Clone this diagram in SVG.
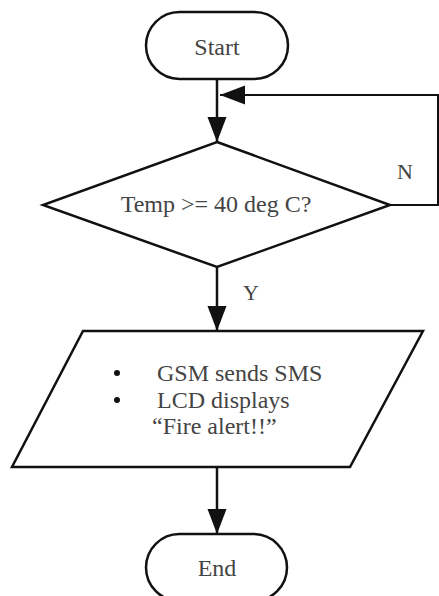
<svg xmlns="http://www.w3.org/2000/svg" width="439" height="596" viewBox="0 0 439 596">
<defs>
<style>
.shape{fill:#fff;stroke:#111;stroke-width:2.5}
.line{fill:none;stroke:#111;stroke-width:2.5}
.t{font-family:"Liberation Serif","Times New Roman",serif;font-size:24px;fill:#444}
</style>
<marker id="ah" markerUnits="userSpaceOnUse" markerWidth="26" markerHeight="20" refX="25" refY="9.5" orient="auto">
<path d="M0,0 L25,9.5 L0,19 Z" fill="#111"/>
</marker>
</defs>
<g id="connectors">
<line class="line" x1="217" y1="79" x2="217" y2="142" marker-end="url(#ah)"/>
<polyline class="line" points="390,205 438,205 438,95 220,95" style="stroke-width:2" marker-end="url(#ah)"/>
<line class="line" x1="217" y1="267" x2="217" y2="331" marker-end="url(#ah)"/>
<line class="line" x1="217" y1="467" x2="217" y2="534" marker-end="url(#ah)"/>
<text class="t" x="405" y="179" text-anchor="middle" style="font-size:22px">N</text>
<text class="t" x="251" y="300" text-anchor="middle" style="font-size:22px">Y</text>
</g>
<g id="start">
<rect class="shape" x="146" y="12" width="142" height="67" rx="33.5"/>
<text class="t" x="217" y="55" text-anchor="middle">Start</text>
</g>
<g id="decision">
<polygon class="shape" points="217,142 390,205 217,267 43,205"/>
<text class="t" x="216" y="212" text-anchor="middle">Temp &gt;= 40 deg C?</text>
</g>
<g id="action">
<polygon class="shape" points="83,331 423,331 350,467 12,467"/>
<circle cx="117" cy="373" r="3" fill="#111"/>
<circle cx="117" cy="400" r="3" fill="#111"/>
<text class="t" x="157" y="381">GSM sends SMS</text>
<text class="t" x="157" y="408">LCD displays</text>
<text class="t" x="152" y="434">“Fire alert!!”</text>
</g>
<g id="end">
<rect class="shape" x="146" y="534" width="141" height="67" rx="33.5"/>
<text class="t" x="217" y="576" text-anchor="middle">End</text>
</g>
</svg>
